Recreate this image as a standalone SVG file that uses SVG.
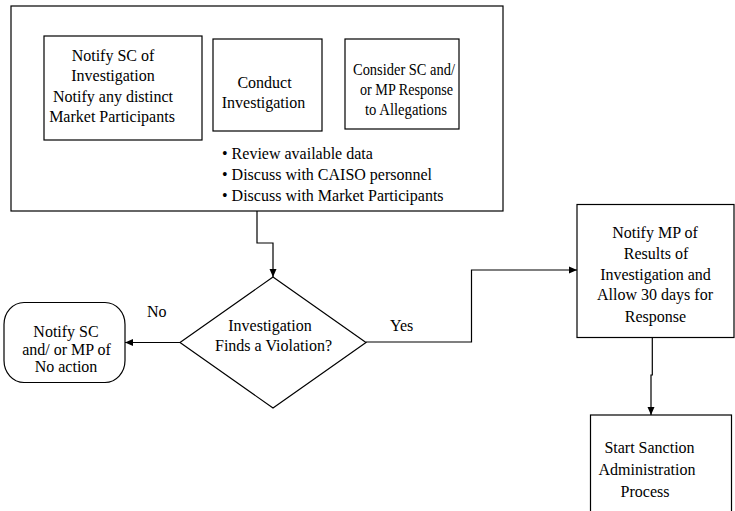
<svg xmlns="http://www.w3.org/2000/svg" width="735" height="511" viewBox="0 0 735 511">
<style>
.b{fill:#fff;stroke:#000;stroke-width:1.2}
.t{font-family:"Liberation Serif","Times New Roman",serif;font-size:16px;fill:#000}
.c{text-anchor:middle}
.l{fill:none;stroke:#000;stroke-width:1.2}
</style>
<defs>
<marker id="ah" markerWidth="8" markerHeight="8" refX="8" refY="4" orient="auto" markerUnits="userSpaceOnUse">
<path d="M0,0.5 L8,4 L0,7.5 Z" fill="#000"/>
</marker>
</defs>
<rect width="735" height="511" fill="#fff"/>
<g id="container">
<rect class="b" x="11" y="6" width="492" height="205"/>
</g>
<g id="notify-sc">
<rect class="b" x="44" y="36" width="158" height="104"/>
<text class="t c" x="113" y="61">Notify SC of</text>
<text class="t c" x="113" y="81">Investigation</text>
<text class="t c" x="113" y="101.5">Notify any distinct</text>
<text class="t c" x="112" y="122">Market Participants</text>
</g>
<g id="conduct">
<rect class="b" x="213" y="39" width="109" height="92"/>
<text class="t c" x="264.5" y="88">Conduct</text>
<text class="t c" x="263.5" y="108">Investigation</text>
</g>
<g id="consider">
<rect class="b" x="345" y="39" width="114" height="90"/>
<text class="t c" x="404" y="75" textLength="102" lengthAdjust="spacingAndGlyphs">Consider SC and/</text>
<text class="t c" x="406.5" y="95" textLength="93" lengthAdjust="spacingAndGlyphs">or MP Response</text>
<text class="t c" x="406" y="115" textLength="82" lengthAdjust="spacingAndGlyphs">to Allegations</text>
</g>
<g id="bullets">
<text class="t" x="222" y="159">• Review available data</text>
<text class="t" x="222" y="180">• Discuss with CAISO personnel</text>
<text class="t" x="222" y="200.5">• Discuss with Market Participants</text>
</g>
<g id="decision">
<polygon class="b" points="273,277 366,342.5 273,408 180,342.5"/>
<text class="t c" x="270" y="330.5">Investigation</text>
<text class="t c" x="273.5" y="350.5">Finds a Violation?</text>
</g>
<g id="no-action">
<rect class="b" x="4" y="302.5" width="121" height="80" rx="20" ry="22"/>
<text class="t c" x="66" y="336.5">Notify SC</text>
<text class="t c" x="66.5" y="355">and/ or MP of</text>
<text class="t c" x="66" y="371.5">No action</text>
</g>
<g id="notify-mp">
<rect class="b" x="577" y="204.5" width="157" height="133"/>
<text class="t c" x="655" y="237.5">Notify MP of</text>
<text class="t c" x="656" y="258.5">Results of</text>
<text class="t c" x="655.5" y="279.5">Investigation and</text>
<text class="t c" x="655" y="300">Allow 30 days for</text>
<text class="t c" x="655.5" y="321.5">Response</text>
</g>
<g id="sanction">
<rect class="b" x="590.5" y="415" width="141" height="110"/>
<text class="t c" x="649.5" y="452.5">Start Sanction</text>
<text class="t c" x="647" y="475">Administration</text>
<text class="t c" x="645" y="496.5">Process</text>
</g>
<g id="connectors">
<path class="l" d="M257,211 V243 H273 V277" marker-end="url(#ah)"/>
<path class="l" d="M180,342.5 H125" marker-end="url(#ah)"/>
<path class="l" d="M366,342 H471.5 V270 H577" marker-end="url(#ah)"/>
<path class="l" d="M652.3,337.5 V375 H651 V415" marker-end="url(#ah)"/>
<text class="t" x="147" y="317">No</text>
<text class="t" x="390" y="330.5">Yes</text>
</g>
</svg>
